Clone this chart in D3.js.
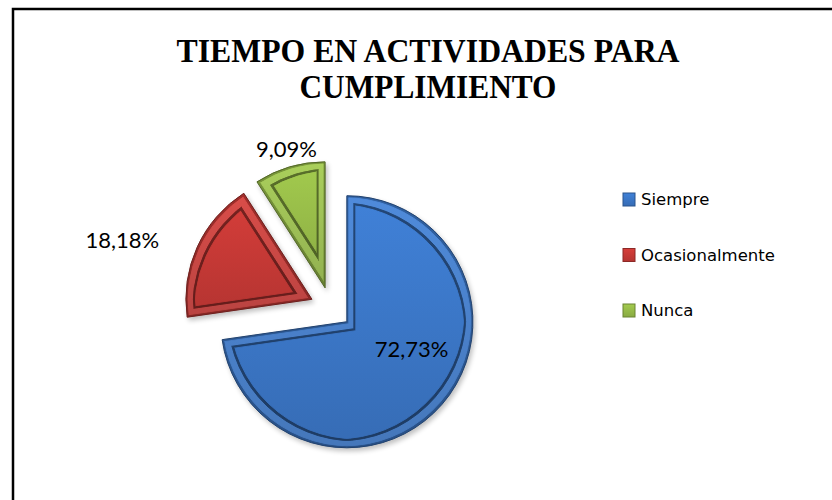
<!DOCTYPE html>
<html>
<head>
<meta charset="utf-8">
<script src="https://cdn.jsdelivr.net/npm/d3@7"></script>
<style>
  body { margin: 0; background: #fff; }
  svg { display: block; }
</style>
</head>
<body>
<div id="chart"></div>
<script>
// data
var categories = ["Siempre", "Ocasionalmente", "Nunca"];
var values = [72.73, 18.18, 9.09];
var labels = ["72,73%", "18,18%", "9,09%"];
var colors = ["#3c78c9", "#c83a36", "#98bd49"];
var titleLines = ["TIEMPO EN ACTIVIDADES PARA", "CUMPLIMIENTO"];

var width = 832, height = 500;
var cx = 331, cy = 308, radius = 126, explode = 21;

var svg = d3.select("#chart")
    .append("svg")
    .attr("width", width)
    .attr("height", height);

var defs = svg.append("defs");

// bevel look: rim + dark inner line
var f = defs.append("filter").attr("id", "bevel")
    .attr("color-interpolation-filters", "sRGB")
    .attr("x", "-10%").attr("y", "-10%").attr("width", "125%").attr("height", "125%");
f.append("feMorphology").attr("in", "SourceAlpha").attr("operator", "erode").attr("radius", 1.5).attr("result", "e0");
f.append("feMorphology").attr("in", "SourceAlpha").attr("operator", "erode").attr("radius", 7).attr("result", "e1");
f.append("feMorphology").attr("in", "SourceAlpha").attr("operator", "erode").attr("radius", 9).attr("result", "e2");
f.append("feComposite").attr("in", "e1").attr("in2", "e2").attr("operator", "out").attr("result", "ring");
f.append("feFlood").attr("flood-color", "#000").attr("flood-opacity", 0.45).attr("result", "dark");
f.append("feComposite").attr("in", "dark").attr("in2", "ring").attr("operator", "in").attr("result", "darkRing");
f.append("feComposite").attr("in", "SourceAlpha").attr("in2", "e0").attr("operator", "out").attr("result", "edge");
f.append("feFlood").attr("flood-color", "#000").attr("flood-opacity", 0.25).attr("result", "dark2");
f.append("feComposite").attr("in", "dark2").attr("in2", "edge").attr("operator", "in").attr("result", "edgeRing");
f.append("feComposite").attr("in", "e0").attr("in2", "e1").attr("operator", "out").attr("result", "rim");
f.append("feFlood").attr("flood-color", "#fff").attr("flood-opacity", 0.08).attr("result", "light");
f.append("feComposite").attr("in", "light").attr("in2", "rim").attr("operator", "in").attr("result", "lightRim");
f.append("feGaussianBlur").attr("in", "SourceAlpha").attr("stdDeviation", 2.5).attr("result", "blur");
f.append("feOffset").attr("in", "blur").attr("dx", 2).attr("dy", 3).attr("result", "off");
f.append("feComponentTransfer").attr("in", "off").attr("result", "shadow")
    .append("feFuncA").attr("type", "linear").attr("slope", 0.25);
var m = f.append("feMerge");
m.append("feMergeNode").attr("in", "shadow");
m.append("feMergeNode").attr("in", "SourceGraphic");
m.append("feMergeNode").attr("in", "lightRim");
m.append("feMergeNode").attr("in", "edgeRing");
m.append("feMergeNode").attr("in", "darkRing");

colors.forEach(function(c, i) {
    var g = defs.append("linearGradient").attr("id", "grad" + i)
        .attr("x1", 0).attr("y1", 0).attr("x2", 0).attr("y2", 1);
    g.append("stop").attr("offset", "0%").attr("stop-color", d3.color(c).brighter(0.2));
    g.append("stop").attr("offset", "100%").attr("stop-color", d3.color(c).darker(0.3));
});

// frame
svg.append("rect")
    .attr("x", 13).attr("y", 9)
    .attr("width", width + 20).attr("height", height + 20)
    .attr("fill", "none")
    .attr("stroke", "#000")
    .attr("stroke-width", 2.5);

// title
svg.selectAll(".title")
    .data(titleLines)
    .enter().append("text")
    .attr("class", "title")
    .attr("x", 428)
    .attr("y", function(d, i) { return 62 + i * 36; })
    .attr("text-anchor", "middle")
    .attr("font-family", "Liberation Serif, Times New Roman, serif")
    .attr("font-weight", "bold")
    .attr("font-size", 33)
    .attr("textLength", function(d, i) { return i === 0 ? 503 : 257; })
    .attr("lengthAdjust", "spacingAndGlyphs")
    .text(function(d) { return d; });

var pie = d3.pie().sort(null).value(function(d) { return d; });
var arcs = pie(values);
var arc = d3.arc().innerRadius(0).outerRadius(radius);

function offset(d) {
    var a = (d.startAngle + d.endAngle) / 2;
    return [Math.sin(a) * explode, -Math.cos(a) * explode];
}

var g = svg.append("g").attr("transform", "translate(" + cx + "," + cy + ")");

var slices = g.selectAll(".slice")
    .data(arcs)
    .enter().append("g")
    .attr("class", "slice")
    .attr("transform", function(d) { var o = offset(d); return "translate(" + o[0] + "," + o[1] + ")"; });

slices.append("path")
    .attr("d", arc)
    .attr("fill", function(d, i) { return "url(#grad" + i + ")"; })
    .attr("stroke", function(d, i) { return d3.color(colors[i]).darker(0.9); })
    .attr("stroke-width", 1)
    .attr("filter", "url(#bevel)");

// data labels: inside for the big slice, outside for the small ones
var nudge = [[17, -6], [-52, 12], [4, 14]];
g.selectAll(".lbl")
    .data(arcs)
    .enter().append("text")
    .attr("class", "lbl")
    .attr("transform", function(d, i) {
        var o = offset(d);
        var p = i === 0
            ? d3.arc().innerRadius(0).outerRadius(radius).centroid(d)
            : d3.arc().innerRadius(radius * 1.2).outerRadius(radius * 1.2).centroid(d);
        return "translate(" + (p[0] + o[0] + nudge[i][0]) + "," + (p[1] + o[1] + nudge[i][1]) + ")";
    })
    .attr("text-anchor", "middle")
    .attr("font-family", "Lato, DejaVu Sans, sans-serif")
    .attr("font-size", 22)
    .attr("fill", "#000")
    .text(function(d, i) { return labels[i]; });

// legend
var legend = svg.append("g").attr("transform", "translate(623,193)");
var items = legend.selectAll(".item")
    .data(categories)
    .enter().append("g")
    .attr("class", "item")
    .attr("transform", function(d, i) { return "translate(0," + (i * 55.5) + ")"; });

items.append("rect")
    .attr("width", 12).attr("height", 13)
    .attr("fill", function(d, i) { return "url(#grad" + i + ")"; })
    .attr("stroke", function(d, i) { return d3.color(colors[i]).darker(1); })
    .attr("stroke-width", 1);

items.append("text")
    .attr("x", 18)
    .attr("y", 12)
    .attr("font-family", "DejaVu Sans, sans-serif")
    .attr("font-size", 16.5)
    .attr("fill", "#000")
    .text(function(d) { return d; });
</script>
</body>
</html>
